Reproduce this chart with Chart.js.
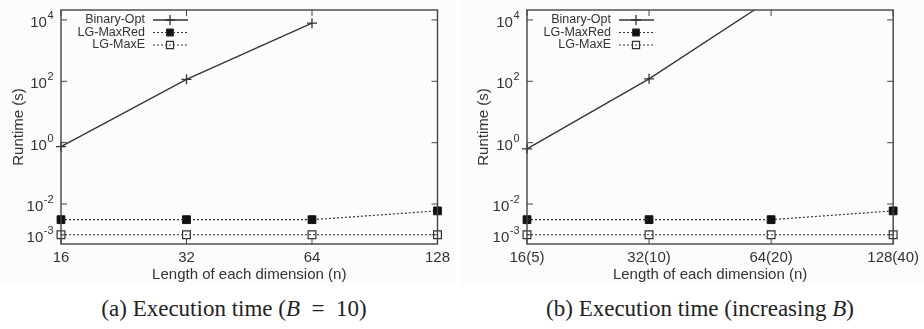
<!DOCTYPE html>
<html>
<head>
<meta charset="utf-8">
<script src="https://cdn.jsdelivr.net/npm/chart.js@4/dist/chart.umd.min.js"></script>
<style>
  body { margin: 0; background: #fff; width: 924px; height: 329px; position: relative; overflow: hidden; }
  canvas { position: absolute; top: 0; background: #fcfcfc; }
  #chartA { left: 0; }
  #chartB { left: 460px; }
  .cap { position: absolute; top: 296px; font-family: "Liberation Serif", "DejaVu Serif", serif; font-size: 23px; color: #222; text-align: center; white-space: nowrap; }
</style>
</head>
<body>
<canvas id="chartA" width="455" height="285"></canvas>
<canvas id="chartB" width="464" height="285"></canvas>
<div class="cap" style="left:0;width:468px;">(a) Execution time (<i>B</i>&nbsp;&nbsp;=&nbsp;&nbsp;10)</div>
<div class="cap" style="left:460px;width:480px;">(b) Execution time (increasing <i>B</i>)</div>
<script>
// categories
const catsA = ['16', '32', '64', '128'];
const catsB = ['16(5)', '32(10)', '64(20)', '128(40)'];
// series values (seconds)
const binaryA = [0.74, 116, 7800, null];
const binaryB = [0.63, 120, 48000, null];
const maxRedA = [0.0031, 0.0031, 0.0031, 0.006];
const maxRedB = [0.0031, 0.0031, 0.0031, 0.006];
const maxEA = [0.001, 0.001, 0.001, 0.001];
const maxEB = [0.001, 0.001, 0.001, 0.001];
// y ticks
const yTickValues = [1e-3, 1e-2, 1, 1e2, 1e4];
const yTickExps = ['-3', '-2', '0', '2', '4'];
const yMin = 0.0005, yMax = 21000;

const INK = '#333';
const FONT = '"Liberation Sans", Arial, sans-serif';

function drawMarker(ctx, style, x, y, r, fill) {
    ctx.beginPath();
    if (style === 'cross') {
        ctx.moveTo(x - r, y); ctx.lineTo(x + r, y);
        ctx.moveTo(x, y - r); ctx.lineTo(x, y + r);
        ctx.stroke();
    } else {
        const s = r * Math.SQRT1_2;
        ctx.rect(x - s, y - s, 2 * s, 2 * s);
        if (fill) ctx.fill();
        ctx.stroke();
    }
}

const framePlugin = {
    id: 'frame',
    afterDraw(chart) {
        const { ctx, chartArea: a, scales: { x, y } } = chart;
        ctx.save();
        ctx.strokeStyle = '#444';
        ctx.lineWidth = 1.4;
        ctx.strokeRect(a.left, a.top, a.right - a.left, a.bottom - a.top);

        // inward ticks, mirrored
        ctx.lineWidth = 1;
        y.ticks.forEach(t => {
            const py = y.getPixelForValue(t.value);
            ctx.beginPath();
            ctx.moveTo(a.left, py); ctx.lineTo(a.left + 6, py);
            ctx.moveTo(a.right, py); ctx.lineTo(a.right - 6, py);
            ctx.stroke();
        });
        x.ticks.forEach((t, i) => {
            const px = x.getPixelForValue(i);
            ctx.beginPath();
            ctx.moveTo(px, a.bottom); ctx.lineTo(px, a.bottom - 6);
            ctx.moveTo(px, a.top); ctx.lineTo(px, a.top + 6);
            ctx.stroke();
        });

        // y tick labels as 10 with superscript exponent
        ctx.fillStyle = INK;
        ctx.textBaseline = 'alphabetic';
        ctx.textAlign = 'left';
        y.ticks.forEach((t, i) => {
            const py = y.getPixelForValue(t.value);
            ctx.font = '15px ' + FONT;
            const wBase = ctx.measureText('10').width;
            ctx.font = '11px ' + FONT;
            const wExp = ctx.measureText(yTickExps[i]).width;
            const xStart = a.left - 8 - wBase - wExp;
            ctx.font = '15px ' + FONT;
            ctx.fillText('10', xStart, py + 7);
            ctx.font = '11px ' + FONT;
            ctx.fillText(yTickExps[i], xStart + wBase + 0.5, py - 1);
        });

        // legend: text right-aligned, then sample line with marker
        ctx.font = '12.5px ' + FONT;
        ctx.textAlign = 'right';
        ctx.textBaseline = 'middle';
        chart.data.datasets.forEach((ds, i) => {
            const ry = a.top + 10 + i * 12.5;
            const tx = a.left + 84;
            ctx.fillStyle = INK;
            ctx.fillText(ds.label, tx, ry);
            ctx.strokeStyle = ds.borderColor;
            ctx.lineWidth = ds.borderWidth;
            ctx.setLineDash(ds.borderDash || []);
            ctx.beginPath();
            ctx.moveTo(tx + 8, ry); ctx.lineTo(tx + 43, ry);
            ctx.stroke();
            ctx.setLineDash([]);
            ctx.fillStyle = ds.pointBackgroundColor;
            ctx.lineWidth = ds.pointBorderWidth;
            drawMarker(ctx, ds.pointStyle, tx + 25, ry, 5, ds.pointStyle === 'rect' && ds.pointBackgroundColor !== 'rgba(0,0,0,0)');
        });
        ctx.restore();
    }
};

function makeChart(id, cats, bin, red, maxe, areaLeft, padRight, yTitlePad) {
    const ctx = document.getElementById(id).getContext('2d');
    return new Chart(ctx, {
        type: 'line',
        data: {
            labels: cats,
            datasets: [
                {
                    label: 'Binary-Opt', data: bin,
                    borderColor: INK, borderWidth: 1.3,
                    pointStyle: 'cross', pointRadius: 5, pointBorderWidth: 1.3,
                    pointBorderColor: INK, pointBackgroundColor: INK
                },
                {
                    label: 'LG-MaxRed', data: red,
                    borderColor: INK, borderWidth: 1.2, borderDash: [2, 2],
                    pointStyle: 'rect', pointRadius: 5.5, pointBorderWidth: 1,
                    pointBorderColor: '#111', pointBackgroundColor: '#111'
                },
                {
                    label: 'LG-MaxE', data: maxe,
                    borderColor: INK, borderWidth: 1.2, borderDash: [2, 2],
                    pointStyle: 'rect', pointRadius: 5.5, pointBorderWidth: 1.2,
                    pointBorderColor: INK, pointBackgroundColor: 'rgba(0,0,0,0)'
                }
            ]
        },
        options: {
            responsive: false,
            animation: false,
            layout: { padding: { left: 0, right: padRight, top: 10, bottom: 0 } },
            plugins: { legend: { display: false }, tooltip: { enabled: false } },
            scales: {
                x: {
                    type: 'category',
                    offset: false,
                    grid: { display: false, drawTicks: false },
                    border: { display: false },
                    ticks: { color: INK, font: { family: FONT, size: 15 }, padding: 5, maxRotation: 0, autoSkip: false },
                    title: { display: true, text: 'Length of each dimension (n)', color: INK,
                             font: { family: FONT, size: 15 }, padding: { top: 0, bottom: 1 } },
                    afterFit: s => { s.height = 41; }
                },
                y: {
                    type: 'logarithmic',
                    min: yMin, max: yMax,
                    grid: { display: false, drawTicks: false },
                    border: { display: false },
                    ticks: { display: false },
                    afterBuildTicks: s => { s.ticks = yTickValues.map(v => ({ value: v })); },
                    title: { display: true, text: 'Runtime (s)', color: INK,
                             font: { family: FONT, size: 15 }, padding: { top: yTitlePad, bottom: 0 } },
                    afterFit: s => { s.width = areaLeft; }
                }
            }
        },
        plugins: [framePlugin]
    });
}

makeChart('chartA', catsA, binaryA, maxRedA, maxEA, 61, 14, 9.5);
makeChart('chartB', catsB, binaryB, maxRedB, maxEB, 67, 30, 14.5);
</script>
</body>
</html>
